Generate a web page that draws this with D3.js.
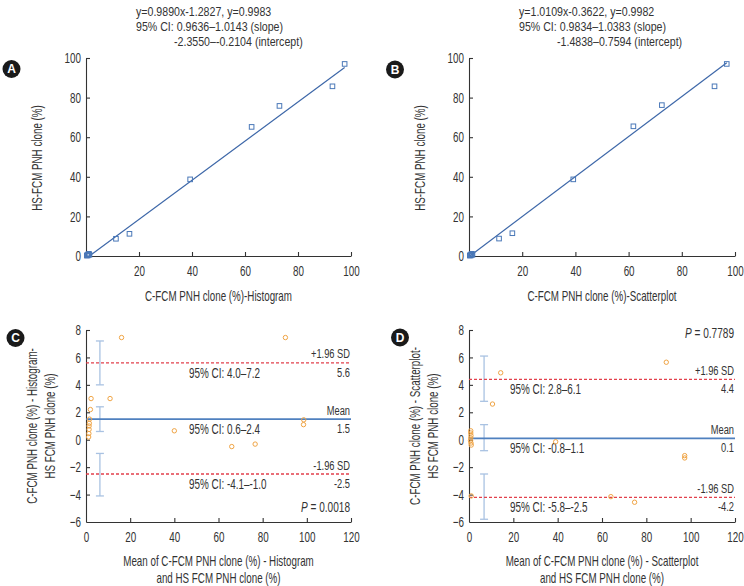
<!DOCTYPE html>
<html><head><meta charset="utf-8">
<script src="https://cdn.jsdelivr.net/npm/d3@7"></script>
<style>
body{margin:0;background:#fff}
svg text{font-family:"Liberation Sans",Arial,sans-serif;fill:#333}
</style></head><body><svg id="c" width="744" height="586"></svg>
<script>
// ---------- data ----------
const histX = [0.3, 0.5, 0.7, 0.9, 1.1, 1.3, 11.3, 16.4, 39.3, 62.5, 73.0, 93.0, 97.6];
const histY = [0.2, 0.5, 0.3, 0.9, 1.1, 0.6, 8.7, 11.2, 38.7, 65.2, 75.8, 85.7, 97.0];
const scatX = [0.3, 0.5, 0.7, 0.9, 1.1, 1.3, 11.3, 16.3, 39.2, 61.8, 72.5, 92.3, 96.9];
const scatY = [0.2, 0.5, 0.3, 0.9, 1.1, 0.6, 8.8, 11.5, 38.7, 65.5, 76.2, 85.7, 97.0];
const histFit = [0.9890, -1.2827];
const scatFit = [1.0109, -0.3622];
const histEq = ["y=0.9890x-1.2827, y=0.9983", "95% CI: 0.9636–1.0143 (slope)", "-2.3550–-0.2104 (intercept)"];
const scatEq = ["y=1.0109x-0.3622, y=0.9982", "95% CI: 0.9834–1.0383 (slope)", "-1.4838–0.7594 (intercept)"];
const xTicksAB = [20, 40, 60, 80, 100];
const yTicksAB = [0, 20, 40, 60, 80, 100];

const histMean = [1.2, 1.3, 1.4, 1.4, 1.5, 1.6, 2.0, 2.3, 10.9, 16.1, 40.0, 66.0, 76.6, 90.3, 98.6, 98.5];
const histDiff = [0.2, 0.45, 0.75, 1.0, 1.2, 1.5, 2.2, 3.0, 3.0, 7.45, 0.65, -0.5, -0.32, 7.45, 1.45, 1.1];
const scatMean = [0.8, 0.8, 0.9, 0.8, 0.7, 0.9, 1.0, 1.0, 10.6, 14.3, 39.1, 64.0, 74.7, 89.0, 97.3, 97.3];
const scatDiff = [0.65, 0.49, 0.3, 0.12, -0.07, -0.24, -0.39, -4.1, 2.6, 4.88, -0.15, -4.15, -4.56, 5.65, -1.16, -1.33];
const histLimits = [5.6, 1.5, -2.5];
const scatLimits = [4.4, 0.1, -4.2];
const histCI = [[4.0, 7.2], [0.6, 2.4], [-4.1, -1.0]];
const scatCI = [[2.8, 6.1], [-0.8, 1.1], [-5.8, -2.5]];
const limitNames = ["+1.96 SD", "Mean", "-1.96 SD"];
const histP = "0.0018", scatP = "0.7789";
const xTicksBA = [0, 20, 40, 60, 80, 100, 120];
const yTicksBA = [-6, -4, -2, 0, 2, 4, 6, 8];

// ---------- drawing ----------
const svg = d3.select("#c");
const INK = "#333";
const KC = 0.70; // horizontal condensation of text

function label(parent, x, y, str, o) {
  o = o || {};
  const k = o.k || KC;
  const rot = o.rotate ? ` rotate(${o.rotate})` : "";
  const g = parent.append("g").attr("transform", `translate(${x},${y})${rot} scale(${k},1)`);
  const t = g.append("text").attr("x", 0).attr("y", 0)
    .attr("text-anchor", o.anchor || "start")
    .style("font-size", (o.size || 14) + "px");
  if (o.fill) t.style("fill", o.fill);
  if (str !== null) t.text(str);
  return t;
}
function styleAxis(g, fs, k) {
  g.select(".domain").attr("stroke", INK).attr("stroke-width", 1.1);
  g.selectAll(".tick line").attr("stroke", INK).attr("stroke-width", 1.1);
  g.attr("font-family", null).attr("font-size", null);
  g.selectAll(".tick text").attr("fill", INK).style("font-size", fs + "px")
    .each(function () {
      const xx = +this.getAttribute("x") || 0;
      this.setAttribute("x", xx / k);
      this.setAttribute("transform", `scale(${k},1)`);
    });
}
function badge(cx, cy, letter) {
  svg.append("circle").attr("cx", cx).attr("cy", cy).attr("r", 9).attr("fill", "#1a1a1a");
  svg.append("text").attr("x", cx).attr("y", cy + 4.3).attr("text-anchor", "middle")
    .style("font-weight", "bold").style("font-size", "12px").style("fill", "#fff").text(letter);
}

function scatterPanel(o) {
  const x = d3.scaleLinear().domain([0, 100]).range([o.x0, o.x1]);
  const y = d3.scaleLinear().domain([0, 100]).range([256, 58]);
  const g = svg.append("g");
  const gx = g.append("g").attr("transform", `translate(0,${y(0)})`)
    .call(d3.axisBottom(x).tickValues(xTicksAB).tickSizeInner(-4).tickSizeOuter(0).tickPadding(10));
  styleAxis(gx, 14.5, 0.68);
  const gy = g.append("g").attr("transform", `translate(${x(0)},0)`)
    .call(d3.axisLeft(y).tickValues(yTicksAB).tickSizeInner(-4).tickSizeOuter(0).tickPadding(5));
  styleAxis(gy, 14.5, 0.68);
  const xs0 = Math.max(d3.min(o.xs), -o.fit[1] / o.fit[0]), xs1 = d3.max(o.xs);
  g.append("line").attr("x1", x(xs0)).attr("y1", y(o.fit[0] * xs0 + o.fit[1]))
    .attr("x2", x(xs1)).attr("y2", y(o.fit[0] * xs1 + o.fit[1]))
    .attr("stroke", "#3d67a8").attr("stroke-width", 1.2);
  g.selectAll("rect.pt").data(o.xs.map((v, i) => [v, o.ys[i]])).join("rect")
    .attr("x", d => x(d[0]) - 2.3).attr("y", d => y(d[1]) - 2.3)
    .attr("width", 4.6).attr("height", 4.6)
    .attr("fill", "none").attr("stroke", "#4a78b8").attr("stroke-width", 1);
  o.eq.forEach((s, i) => label(g, i === 2 ? o.eqX + 38 : o.eqX, 16 + i * 15, s, { size: 12.5, k: 0.85 }));
  label(g, (o.x0 + o.x1) / 2, 301, o.xTitle, { size: 14, anchor: "middle" });
  label(g, o.x0 - 44.5, 158, "HS-FCM PNH clone (%)", { size: 14, anchor: "middle", rotate: -90 });
  badge(o.badge[0], o.badge[1], o.letter);
}

function baPanel(o) {
  const x = d3.scaleLinear().domain([0, 120]).range([o.x0, o.x1]);
  const y = d3.scaleLinear().domain([-6, 8]).range([522, 330]);
  const g = svg.append("g");
  const gx = g.append("g").attr("transform", `translate(0,${y(-6)})`)
    .call(d3.axisBottom(x).tickValues(xTicksBA).tickSizeInner(-4).tickSizeOuter(0).tickPadding(10));
  styleAxis(gx, 14.5, 0.68);
  gx.selectAll(".tick").filter(d => d === 0).select("line").remove();
  const gy = g.append("g").attr("transform", `translate(${x(0)},0)`)
    .call(d3.axisLeft(y).tickValues(yTicksBA).tickSizeInner(-4).tickSizeOuter(0).tickPadding(5));
  styleAxis(gy, 14.5, 0.68);
  gy.selectAll(".tick").filter(d => d === -6).select("line").remove();

  const ebx = x(o.ebX);
  o.ci.forEach(c => {
    g.append("line").attr("x1", ebx).attr("x2", ebx).attr("y1", y(c[0])).attr("y2", y(c[1]))
      .attr("stroke", "#a9c2e2").attr("stroke-width", 1.3);
    c.forEach(v => g.append("line").attr("x1", ebx - 4).attr("x2", ebx + 4).attr("y1", y(v)).attr("y2", y(v))
      .attr("stroke", "#a9c2e2").attr("stroke-width", 1.3));
  });
  o.limits.forEach((v, i) => {
    const ln = g.append("line").attr("x1", x(0)).attr("x2", x(120)).attr("y1", y(v)).attr("y2", y(v));
    if (i === 1) ln.attr("stroke", "#4f80bf").attr("stroke-width", 1.6);
    else ln.attr("stroke", "#e2404c").attr("stroke-width", 1.3).attr("stroke-dasharray", "3,2");
    label(g, x(120) - 1, y(v) - 4.5, limitNames[i], { size: 13.5, anchor: "end", k: 0.69 });
    label(g, x(120) - 1, y(v) + 14, v.toFixed(1), { size: 13.5, anchor: "end", k: 0.69 });
    label(g, o.ciTextX, y(v) + 15, `95% CI: ${o.ci[i][0].toFixed(1)}–${o.ci[i][1].toFixed(1)}`, { size: 15, k: 0.66 });
  });
  g.selectAll("circle.pt").data(o.xs.map((v, i) => [v, o.ys[i]])).join("circle")
    .attr("cx", d => x(d[0])).attr("cy", d => y(d[1])).attr("r", 2.2)
    .attr("fill", "none").attr("stroke", "#f0a444").attr("stroke-width", 1);
  const pt = label(g, x(120) - 1, o.pY, null, { size: 14, anchor: "end", k: 0.72 });
  pt.append("tspan").style("font-style", "italic").text("P");
  pt.append("tspan").text(" = " + o.p);
  o.xTitle.forEach((s, i) => label(g, (o.x0 + o.x1) / 2, 566 + i * 16.5, s, { size: 14, anchor: "middle" }));
  o.yTitle.forEach((s, i) => label(g, o.x0 - 49 + i * 17.5, 426, s, { size: 14, anchor: "middle", rotate: -90 }));
  badge(o.badge[0], o.badge[1], o.letter);
}

scatterPanel({ x0: 86, x1: 351, xs: histX, ys: histY, fit: histFit, eq: histEq, eqX: 136,
  xTitle: "C-FCM PNH clone (%)-Histogram", badge: [11.5, 69], letter: "A" });
scatterPanel({ x0: 469, x1: 735, xs: scatX, ys: scatY, fit: scatFit, eq: scatEq, eqX: 519,
  xTitle: "C-FCM PNH clone (%)-Scatterplot", badge: [395, 69.5], letter: "B" });
baPanel({ x0: 86, x1: 351, xs: histMean, ys: histDiff, limits: histLimits, ci: histCI, ebX: 6.3,
  ciTextX: 189, p: histP, pY: 512,
  xTitle: ["Mean of C-FCM PNH clone (%) - Histogram", "and HS FCM PNH clone (%)"],
  yTitle: ["C-FCM PNH clone (%) - Histogram-", "HS FCM PNH clone (%)"], badge: [15.5, 338], letter: "C" });
baPanel({ x0: 469, x1: 735, xs: scatMean, ys: scatDiff, limits: scatLimits, ci: scatCI, ebX: 6.8,
  ciTextX: 510, p: scatP, pY: 338,
  xTitle: ["Mean of C-FCM PNH clone (%) - Scatterplot", "and HS FCM PNH clone (%)"],
  yTitle: ["C-FCM PNH clone (%) - Scatterplot-", "HS FCM PNH clone (%)"], badge: [400, 337.5], letter: "D" });
</script></body></html>
